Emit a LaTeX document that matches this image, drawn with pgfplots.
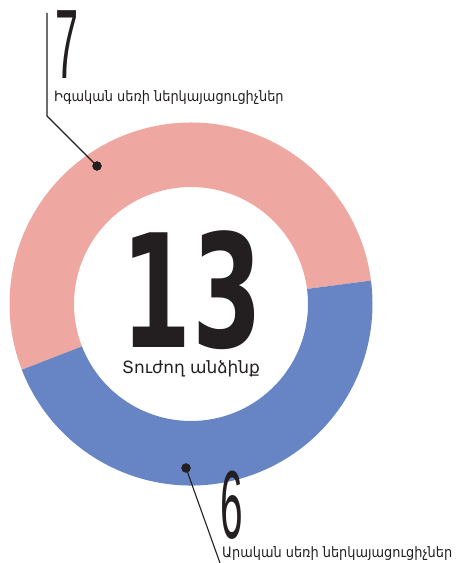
\documentclass[border=0pt]{standalone}
\usepackage{pgfplots}
\pgfplotsset{compat=1.18}
\usepackage{pgfplotstable}
\usepackage{graphicx}
\usepackage{fontspec}
\setmainfont{DejaVu Sans}
\newfontfamily\armcond{DejaVu Sans Condensed}
\newfontfamily\numfont{Liberation Sans}
\definecolor{pinkseg}{HTML}{EFA7A2}
\definecolor{blueseg}{HTML}{6784C4}
\definecolor{ink}{HTML}{231F20}

% segment values: female, male
\pgfplotstableread{
group value
female 7
male 6
}\donutdata

\begin{document}
\begin{tikzpicture}
\pgfplotstablegetelem{0}{value}\of\donutdata \let\vf\pgfplotsretval
\pgfplotstablegetelem{1}{value}\of\donutdata \let\vm\pgfplotsretval
\pgfmathtruncatemacro\total{\vf+\vm}
\pgfmathsetmacro\aStart{7.4}
\pgfmathsetmacro\aMid{\aStart+360*\vf/\total}
\pgfmathsetmacro\aEnd{\aStart+360}
\def\Ro{181.5bp}
\def\Ri{117bp}
\begin{axis}[
  x=1bp, y=1bp,
  xmin=0, xmax=456, ymin=0, ymax=563,
  hide axis, clip=false,
]
% ring segments
\fill[pinkseg] (axis cs:191,259) ++(\aStart:\Ro) arc[start angle=\aStart, end angle=\aMid, radius=\Ro]
  -- ++(\aMid:-64.5bp) arc[start angle=\aMid, end angle=\aStart, radius=\Ri] -- cycle;
\fill[blueseg] (axis cs:191,259) ++(\aMid:\Ro) arc[start angle=\aMid, end angle=\aEnd, radius=\Ro]
  -- ++(\aEnd:-64.5bp) arc[start angle=\aEnd, end angle=\aMid, radius=\Ri] -- cycle;

% leader lines and dots
\addplot[ink, line width=1.1bp] coordinates {(47,550) (47,447) (97,397)};
\addplot[ink, line width=1.1bp] coordinates {(186,95) (220,0)};
\addplot[only marks, mark=*, mark size=4.5bp, ink] coordinates {(97,397) (186,95)};

% labels
\node[anchor=base west, inner sep=0, ink] at (axis cs:55,484)
  {\numfont\fontsize{99}{99}\selectfont\scalebox{0.42}[1]{\vf}};
\node[anchor=base west, inner sep=0, ink] at (axis cs:54,461)
  {\armcond\fontsize{14.4}{14.4}\selectfont Իգական սեռի ներկայացուցիչներ};
\node[anchor=base west, inner sep=0, ink] at (axis cs:220,25)
  {\numfont\fontsize{97}{97}\selectfont\scalebox{0.42}[1]{\vm}};
\node[anchor=base west, inner sep=0, ink] at (axis cs:222,6)
  {\armcond\fontsize{14.4}{14.4}\selectfont Արական սեռի ներկայացուցիչներ};

\node[anchor=base, inner sep=0, ink] at (axis cs:192,216)
  {\bfseries\fontsize{158}{158}\selectfont\scalebox{0.64}[1]{\total}};
\node[anchor=base, inner sep=0, ink] at (axis cs:191,190)
  {\fontsize{17}{17}\selectfont Տուժող անձինք};
\end{axis}
\pgfresetboundingbox
\path[use as bounding box] (0,0) rectangle (456bp,563bp);
\end{tikzpicture}
\end{document}
